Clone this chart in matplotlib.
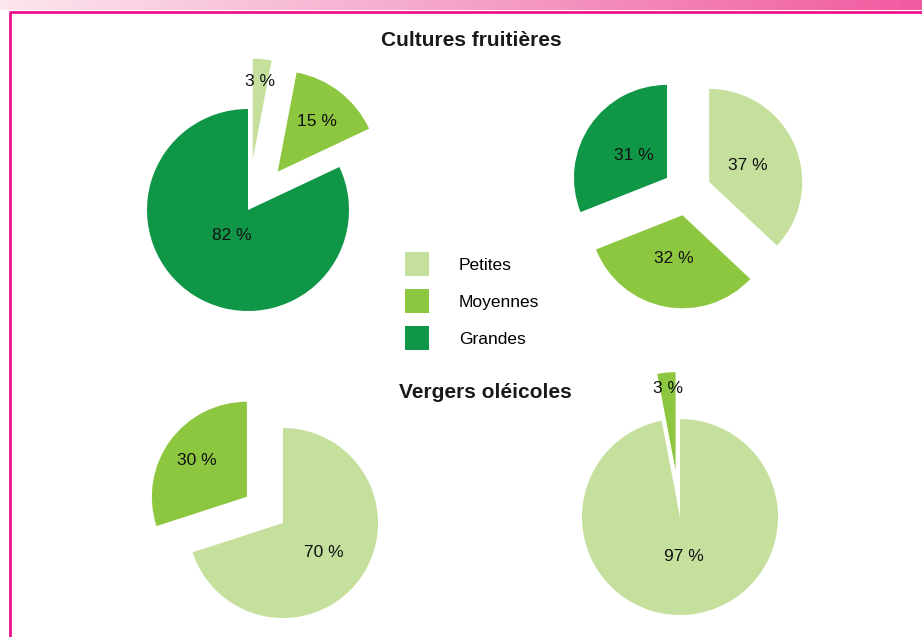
#!/usr/bin/env python3

import math
import numpy as np
import matplotlib
matplotlib.use("Agg")
import matplotlib.pyplot as plt
import matplotlib.patches as mpatches
from matplotlib.colors import LinearSegmentedColormap


CATEGORIES = ["Petites", "Moyennes", "Grandes"]
COLORS = ["#c5e09d", "#8dc63f", "#0f9647"]

# Cultures fruitières
FRUIT_LEFT = [3, 15, 82]
FRUIT_RIGHT = [37, 32, 31]
# Vergers oléicoles
OLIVE_LEFT = [70, 30]
OLIVE_RIGHT = [97, 3]

W, H = 922, 637

# layout in pixels (y measured from the top); explode is a fraction of the radius
PIES = (
    {"values": FRUIT_LEFT, "center": (248, 210), "radius": 101,
     "explode": [0.5, 0.48, 0.0], "labeldist": [0.78, 0.63, 0.30]},
    {"values": FRUIT_RIGHT, "center": (687, 191.5), "radius": 93,
     "explode": [0.26, 0.26, 0.26], "labeldist": [0.45, 0.47, 0.43]},
    {"values": OLIVE_LEFT, "center": (283, 523), "radius": 95,
     "explode": [0.0, 0.47], "labeldist": [0.53, 0.65]},
    {"values": OLIVE_RIGHT, "center": (680, 517), "radius": 98,
     "explode": [0.0, 0.48], "labeldist": [0.40, 0.84]},
)


def main():
    plt.rcParams["font.family"] = ["Liberation Sans", "DejaVu Sans"]
    fig = plt.figure(figsize=(W / 100, H / 100), dpi=100)
    ax = fig.add_axes([0, 0, 1, 1])

    for p in PIES:
        cx, cy = p["center"]
        r = p["radius"]
        n = len(p["values"])
        wedges, _, autotexts = ax.pie(
            p["values"],
            colors=COLORS[:n],
            explode=[e * r for e in p["explode"]],
            center=(cx, H - cy),
            radius=r,
            startangle=90,
            counterclock=False,
            autopct=lambda v: f"{v:.0f} %",
            wedgeprops={"linewidth": 0},
            textprops={"fontsize": 12.5, "color": "#111111"},
        )
        for w, t, d in zip(wedges, autotexts, p["labeldist"]):
            mid = math.radians((w.theta1 + w.theta2) / 2)
            x0, y0 = w.center
            t.set_position((x0 + d * r * math.cos(mid), y0 + d * r * math.sin(mid)))
            t.set_ha("center")
            t.set_va("center")

    ax.text(471, H - 41, "Cultures fruitières", fontsize=15, fontweight="bold",
            ha="center", va="center", color="#1a1a1a")
    ax.text(485, H - 393, "Vergers oléicoles", fontsize=15, fontweight="bold",
            ha="center", va="center", color="#1a1a1a")

    handles = [mpatches.Patch(facecolor=c, edgecolor="none") for c in COLORS]
    ax.legend(
        handles, CATEGORIES,
        loc="upper left",
        bbox_to_anchor=(405, H - 252),
        bbox_transform=ax.transData,
        frameon=False,
        borderpad=0,
        borderaxespad=0,
        fontsize=12.5,
        handlelength=1.38,
        handleheight=1.75,
        handletextpad=1.73,
        labelspacing=0.75,
    )

    # pink banner and border
    cmap = LinearSegmentedColormap.from_list("banner", ["#fce6ef", "#f5a3c8", "#f15a9f"])
    grad = np.linspace(0, 1, 256).reshape(1, -1)
    ax.imshow(grad, cmap=cmap, extent=(0, W, H - 10, H), aspect="auto", zorder=0)
    ax.plot([9, W], [H - 11.5, H - 11.5], color="#ec128c", lw=2.0, solid_capstyle="butt")
    ax.plot([10, 10], [0, H - 11.5], color="#ec128c", lw=2.0, solid_capstyle="butt")

    ax.set_xlim(0, W)
    ax.set_ylim(0, H)
    ax.set_aspect("auto")
    ax.axis("off")

    fig.savefig("out.png", dpi=100)


if __name__ == "__main__":
    main()
